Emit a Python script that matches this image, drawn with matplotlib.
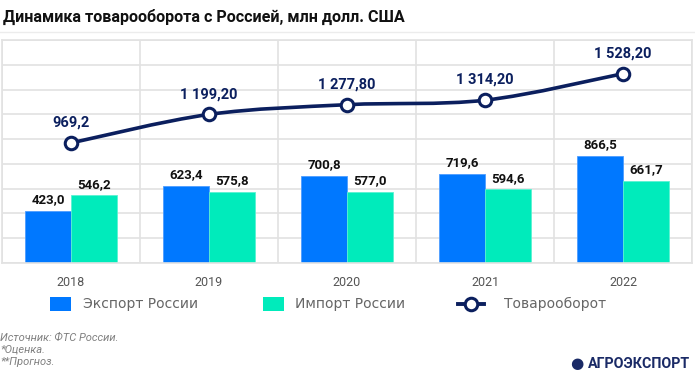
import matplotlib
matplotlib.use("Agg")
import matplotlib.pyplot as plt
from matplotlib.lines import Line2D
from matplotlib.patches import Rectangle, PathPatch
from matplotlib.path import Path
import numpy as np

years = ["2018", "2019", "2020", "2021", "2022"]
export = [423.0, 623.4, 700.8, 719.6, 866.5]
imports = [546.2, 575.8, 577.0, 594.6, 661.7]
turnover = [969.2, 1199.2, 1277.8, 1314.2, 1528.2]
export_labels = ["423,0", "623,4", "700,8", "719,6", "866,5"]
import_labels = ["546,2", "575,8", "577,0", "594,6", "661,7"]
turnover_labels = ["969,2", "1 199,20", "1 277,80", "1 314,20", "1 528,20"]

blue = "#0078ff"
teal = "#00ebbb"
navy = "#0b1f5e"
grid = "#e2e2e2"

plt.rcParams['font.family'] = ['DejaVu Sans']

fig = plt.figure(figsize=(6.95, 3.76), dpi=100)
ax = fig.add_axes([2 / 695, 113 / 376, 690 / 695, 223 / 376])

x = np.arange(len(years))
w = 0.33
ax.bar(x - w / 2, export, w, color=blue, edgecolor="#4d9dff", linewidth=0.6, zorder=2)
ax.bar(x + w / 2, imports, w, color=teal, edgecolor="#5af2d2", linewidth=0.6, zorder=2)

# smoothed line (like the "smooth line" option in the original chart)
pts = np.column_stack([x, turnover]).astype(float)
ext = np.vstack([pts[0], pts, pts[-1]])
verts = [tuple(pts[0])]
codes = [Path.MOVETO]
for i in range(len(pts) - 1):
    p0, p1, p2, p3 = ext[i], ext[i + 1], ext[i + 2], ext[i + 3]
    verts += [tuple(p1 + (p2 - p0) / 6), tuple(p2 - (p3 - p1) / 6), tuple(p2)]
    codes += [Path.CURVE4] * 3
ax.add_patch(PathPatch(Path(verts, codes), fill=False, edgecolor=navy, lw=2.6,
                       capstyle="round", zorder=3))
ax.plot(x, turnover, ls="none", marker="o", ms=9, mfc="white", mec=navy, mew=2.2, zorder=4)

num_font = "Roboto"
for i in range(len(years)):
    ax.annotate(export_labels[i], (x[i] - w / 2, export[i]), xytext=(0, 8),
                textcoords="offset points", ha="center", va="center", family=num_font,
                fontsize=9.5, fontweight="bold", color="#111111", zorder=5)
    ax.annotate(import_labels[i], (x[i] + w / 2, imports[i]), xytext=(0, 8),
                textcoords="offset points", ha="center", va="center", family=num_font,
                fontsize=9.5, fontweight="bold", color="#111111", zorder=5)
    ax.annotate(turnover_labels[i], (x[i], turnover[i]), xytext=(0, 14.5),
                textcoords="offset points", ha="center", va="center", family=num_font,
                fontsize=10.5, fontweight="bold", color=navy, zorder=5)

ax.set_xlim(-0.5, 4.5)
ax.set_ylim(0, 1800)
ax.set_yticks(np.arange(0, 1801, 200))
ax.set_yticklabels([])
ax.set_xticks(x)
ax.set_xticklabels(years, fontsize=9, color="#555555", family=num_font)
ax.tick_params(length=0, pad=9)
ax.set_xticks(np.arange(-0.5, 5, 1), minor=True)
ax.tick_params(which="minor", length=0)
ax.grid(True, which="major", axis="y", color=grid, lw=1.2, zorder=0)
ax.grid(True, which="minor", axis="x", color=grid, lw=1.2, zorder=0)
for s in ax.spines.values():
    s.set_color(grid)
    s.set_linewidth(1.2)

# legend, drawn by hand in figure pixels
def fx(px):
    return px / 695

def fy(py):
    return 1 - py / 376

fig.add_artist(Rectangle((fx(50), fy(311)), 21 / 695, 14 / 376, facecolor=blue, edgecolor="none"))
fig.add_artist(Rectangle((fx(263), fy(311)), 21 / 695, 14 / 376, facecolor=teal, edgecolor="none"))
fig.add_artist(Line2D([fx(458), fx(484)], [fy(304), fy(304)], color=navy, lw=2.8))
fig.add_artist(Line2D([fx(471)], [fy(304)], ls="none", marker="o", ms=9, mfc="white",
                      mec=navy, mew=2.2))
leg_labels = ["Экспорт России", "Импорт России", "Товарооборот"]
for px, lab in zip([83, 295, 504], leg_labels):
    fig.text(fx(px), fy(304), lab, fontsize=10, color="#666666", va="center", ha="left")

fig.text(fx(3), fy(17), "Динамика товарооборота с Россией, млн долл. США", family=num_font,
         fontsize=11.6, fontweight="bold", color="#111111", va="center", ha="left")
fig.add_artist(Line2D([0, 1], [fy(32), fy(32)], color="#ececec", lw=1))

notes = ["Источник: ФТС России.", "*Оценка.", "**Прогноз."]
for py, note in zip([338, 350, 362], notes):
    fig.text(0, fy(py), note, fontsize=8, style="italic", family=num_font,
             color="#808080", va="center")

fig.text(fx(583), fy(364), "\u25cf", fontsize=11, color="#1a2a66", ha="right", va="center")
fig.text(fx(690), fy(364), "АГРОЭКСПОРТ", fontsize=10.3, fontweight="bold", family=num_font,
         color="#1a2a66", ha="right", va="center")

fig.savefig("out.png", dpi=100, facecolor="white")
